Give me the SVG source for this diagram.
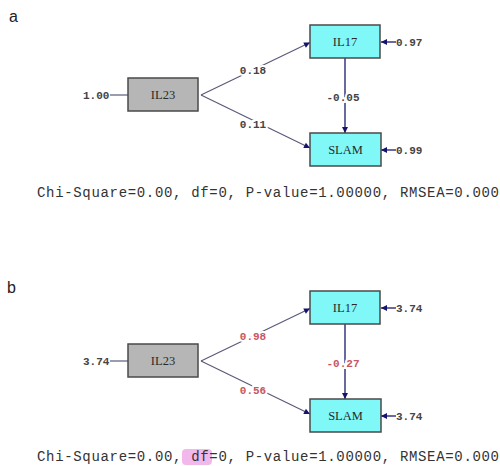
<svg xmlns="http://www.w3.org/2000/svg" width="500" height="466" viewBox="0 0 500 466">
<style>
.bg{fill:#ffffff}
.panel{font-family:"Liberation Sans",Arial,sans-serif;font-size:16px;fill:#222}
.cyan{fill:#80f8f8;stroke:#4a4a4a;stroke-width:1.5}
.gray{fill:#b6b6b6;stroke:#4a4a4a;stroke-width:1.5}
.ntxt{font-family:"Liberation Serif","Times New Roman",serif;font-size:12.5px;fill:#2a2a2a;text-anchor:middle}
.path{stroke:#5a5a7a;stroke-width:1.2;fill:none}
.err{stroke:#1a1a70;stroke-width:1.3;fill:none}
.lbl{font-family:"Liberation Mono","Courier New",monospace;font-size:11px;fill:#444;font-weight:bold}
.elbl{font-family:"Liberation Mono","Courier New",monospace;font-size:11px;text-anchor:middle;font-weight:bold;paint-order:stroke;stroke:#ffffff;stroke-width:4px}
.blk{fill:#444}
.red{fill:#c85565}
.chi{font-family:"Liberation Mono","Courier New",monospace;font-size:14px;fill:#333}
</style>
<defs>
<marker id="arr" viewBox="0 0 10 10" refX="10" refY="5" markerWidth="8" markerHeight="6" markerUnits="userSpaceOnUse" orient="auto">
<path d="M0,0 L10,5 L0,10 z" fill="#14146e"/>
</marker>
</defs>
<rect class="bg" x="0" y="0" width="500" height="466"/>

<g id="panel-a">
<text class="panel" x="9" y="22">a</text>
<g id="a-connectors">
<line class="path" x1="110" y1="95" x2="128" y2="95"/>
<line class="path" x1="201" y1="95" x2="310" y2="42.5" marker-end="url(#arr)"/>
<line class="path" x1="201" y1="95" x2="310" y2="148" marker-end="url(#arr)"/>
<line class="err" x1="345" y1="58" x2="345" y2="133" marker-end="url(#arr)"/>
<line class="err" x1="396" y1="42" x2="381" y2="42" marker-end="url(#arr)"/>
<line class="err" x1="396" y1="150" x2="381" y2="150" marker-end="url(#arr)"/>
<text class="elbl blk" x="253" y="74">0.18</text>
<text class="elbl blk" x="253" y="128">0.11</text>
<text class="elbl blk" x="343" y="101">-0.05</text>
<text class="lbl" x="83" y="99">1.00</text>
<text class="lbl" x="396" y="46">0.97</text>
<text class="lbl" x="396" y="154">0.99</text>
</g>
<g id="a-IL23"><rect class="gray" x="128" y="78" width="70" height="33"/><text class="ntxt" x="163" y="99">IL23</text></g>
<g id="a-IL17"><rect class="cyan" x="310" y="25" width="70" height="33"/><text class="ntxt" x="345" y="46">IL17</text></g>
<g id="a-SLAM"><rect class="cyan" x="310" y="133" width="71" height="33"/><text class="ntxt" x="345.5" y="154">SLAM</text></g>
<text class="chi" x="37" y="197" textLength="462" lengthAdjust="spacing">Chi-Square=0.00, df=0, P-value=1.00000, RMSEA=0.000</text>
</g>

<g id="panel-b">
<text class="panel" x="7" y="293">b</text>
<rect x="182" y="449" width="30" height="16" rx="4" fill="#f2b8ec"/>
<g id="b-connectors">
<line class="path" x1="110" y1="361" x2="128" y2="361"/>
<line class="path" x1="201" y1="361" x2="310" y2="308.5" marker-end="url(#arr)"/>
<line class="path" x1="201" y1="361" x2="310" y2="414" marker-end="url(#arr)"/>
<line class="err" x1="345" y1="324" x2="345" y2="399" marker-end="url(#arr)"/>
<line class="err" x1="396" y1="308" x2="381" y2="308" marker-end="url(#arr)"/>
<line class="err" x1="396" y1="416" x2="381" y2="416" marker-end="url(#arr)"/>
<text class="elbl red" x="253" y="340">0.98</text>
<text class="elbl red" x="253" y="394">0.56</text>
<text class="elbl red" x="343" y="367">-0.27</text>
<text class="lbl" x="83" y="365">3.74</text>
<text class="lbl" x="396" y="312">3.74</text>
<text class="lbl" x="396" y="420">3.74</text>
</g>
<g id="b-IL23"><rect class="gray" x="128" y="344" width="70" height="33"/><text class="ntxt" x="163" y="365">IL23</text></g>
<g id="b-IL17"><rect class="cyan" x="310" y="291" width="70" height="33"/><text class="ntxt" x="345" y="312">IL17</text></g>
<g id="b-SLAM"><rect class="cyan" x="310" y="399" width="71" height="33"/><text class="ntxt" x="345.5" y="420">SLAM</text></g>
<text class="chi" x="37" y="461" textLength="462" lengthAdjust="spacing">Chi-Square=0.00, df=0, P-value=1.00000, RMSEA=0.000</text>
</g>
</svg>
